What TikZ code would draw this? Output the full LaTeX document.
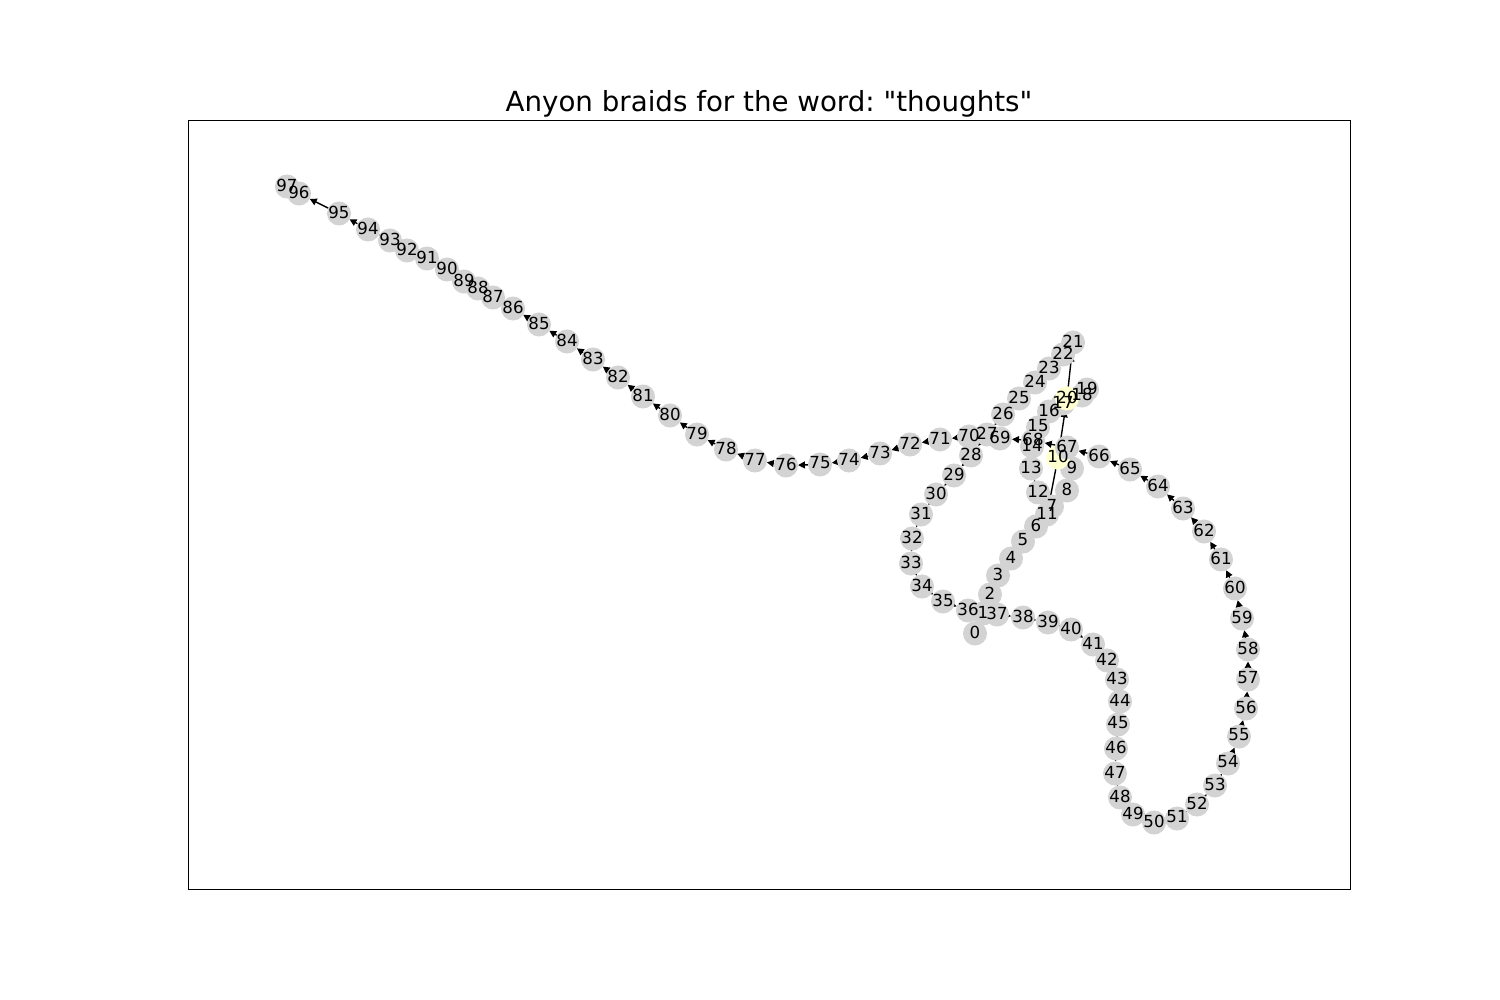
\documentclass[tikz,border=0pt]{standalone}
\usepackage{fontspec}
\setmainfont{DejaVu Sans}[Ligatures=TeXOff]
\usetikzlibrary{arrows.meta}
\pgfdeclarelayer{edgelayer}
\pgfsetlayers{edgelayer,main}
\definecolor{nodegray}{HTML}{D3D3D3}
\definecolor{nodeyellow}{HTML}{FFFFD0}
\def\nodelist{975/632, 983/612, 990/593, 998/574, 1011/557, 1023/540, 1036/525, 1052/505, 1067/489, 1072/467,
1058/456, 1047/513, 1038/491, 1031/467, 1032/445, 1038/426, 1049/410, 1063/402, 1082/394, 1087/388,
1067/397, 1073/341, 1063/353, 1049/367, 1035/381, 1019/397, 1003/413, 987/433, 971/454, 954/474,
936/493, 921/513, 912/537, 911/562, 922/585, 943/600, 968/609, 997/613, 1023/616, 1048/621,
1071/628, 1093/643, 1107/659, 1117/678, 1120/700, 1118/723, 1116/747, 1115/772, 1120/796, 1133/813,
1154/821, 1177/817, 1197/803, 1215/784, 1228/762, 1239/735, 1246/707, 1248/678, 1248/648, 1242/617,
1235/587, 1221/558, 1204/530, 1183/507, 1158/485, 1130/468, 1099/455, 1067/446, 1033/439, 1000/437,
969/435, 940/438, 910/443, 880/452, 849/459, 820/463, 786/464, 755/459, 726/448, 697/433,
670/414, 643/395, 618/376, 593/358, 567/340, 539/323, 513/307, 493/296, 478/287, 464/280,
447/268, 427/257, 407/249, 390/239, 368/228, 339/212, 299/192, 287/185}
\tikzset{
  circ/.style={circle, draw=none, inner sep=0pt, outer sep=0pt, minimum size=0.24in},
  lab/.style={inner sep=0pt, font=\fontsize{12}{14}\selectfont, text=black},
  edge/.style={draw=black, line width=1pt, -{Triangle[length=5pt,width=5pt]}},
}
\begin{document}
\frenchspacing
\begin{tikzpicture}[x=0.01in, y=-0.01in]
\useasboundingbox (0,0) rectangle (1500,1000);
% nodes (circles) in order
\foreach \x/\y [count=\i from 0] in \nodelist {
  \ifnum\i=10 \def\fc{nodeyellow}\else\ifnum\i=20 \def\fc{nodeyellow}\else\def\fc{nodegray}\fi\fi
  \node[circ, fill=\fc] (n\i) at (\x,\y+1.5) {};
}
% edges
\begin{pgfonlayer}{edgelayer}
\foreach \i in {0,...,96} {
  \pgfmathtruncatemacro\j{\i+1}
  \draw[edge] (n\i) -- (n\j);
}
\draw[edge] (n10) -- (n20);
\end{pgfonlayer}
% labels
\foreach \x/\y [count=\i from 0] in \nodelist {
  \node[lab] (l\i) at (\x,\y) {\i};
}
% axes frame
\draw[line width=0.6pt] (188,120) rectangle (1350,889);
% title
\node[anchor=base, inner sep=0pt, font=\fontsize{20}{24}\selectfont] (title) at (769,112) {Anyon braids for the word: "thoughts"};
\end{tikzpicture}
\end{document}
